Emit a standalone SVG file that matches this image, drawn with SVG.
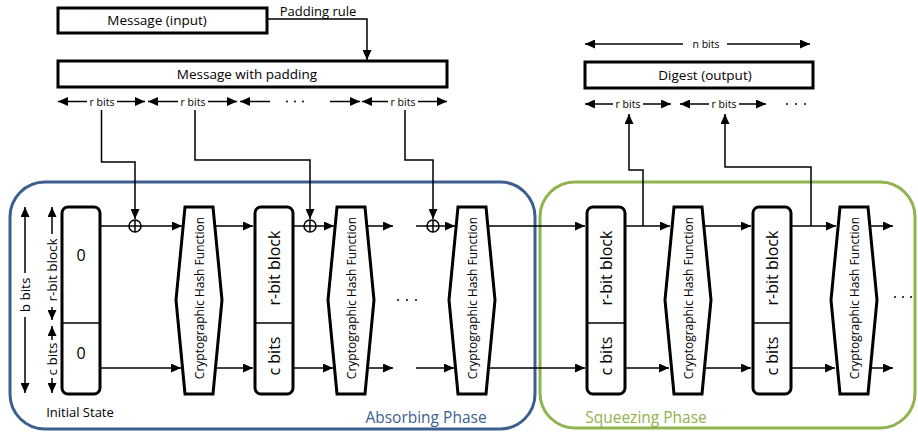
<svg xmlns="http://www.w3.org/2000/svg" width="918" height="433" viewBox="0 0 918 433">
  <defs>
    <marker id="arr" markerUnits="userSpaceOnUse" markerWidth="11" markerHeight="9" refX="10" refY="4.5" orient="auto-start-reverse">
      <path d="M0,0 L10,4.5 L0,9 Z" fill="#000"/>
    </marker>
    <style>
      text { font-family: "Open Sans", "Liberation Sans", sans-serif; fill: #000; }
      .box { fill: #fff; stroke: #000; stroke-width: 3; }
      .blk { fill: #fff; stroke: #000; stroke-width: 3; }
      .div { stroke: #000; stroke-width: 1.5; }
      .hash { fill: #fff; stroke: #000; stroke-width: 3; stroke-linejoin: miter; }
      .ln { fill: none; stroke: #000; stroke-width: 1.5; }
      .ar { fill: none; stroke: #000; stroke-width: 1.5; marker-end: url(#arr); }
      .lbl { font-size: 13.5px; text-anchor: middle; }
      .sm { font-size: 10.5px; text-anchor: middle; }
      .ht { font-size: 12px; text-anchor: middle; dominant-baseline: central; }
      .bt { font-size: 16px; text-anchor: middle; dominant-baseline: central; }
      .side { font-size: 13.5px; text-anchor: middle; dominant-baseline: central; }
      .zero { font-size: 16px; text-anchor: middle; }
      .dot { fill: #000; }
    </style>
  </defs>

  <!-- phase frames -->
  <g id="absorbing-phase">
    <rect x="10" y="182" width="525" height="247" rx="35" fill="none" stroke="#3d5f8f" stroke-width="3"/>
    <text x="426" y="423" style="font-size:15.5px; text-anchor:middle; fill:#3d5f8f">Absorbing Phase</text>
  </g>
  <g id="squeezing-phase">
    <rect x="540" y="182" width="375" height="246" rx="35" fill="none" stroke="#8fb34e" stroke-width="3"/>
    <text x="646" y="423" style="font-size:15.5px; text-anchor:middle; fill:#8fb34e">Squeezing Phase</text>
  </g>

  <!-- input message and padding -->
  <g id="message-input">
    <rect class="box" x="58" y="8" width="209" height="25"/>
    <text class="lbl" x="157" y="25">Message (input)</text>
  </g>
  <g id="message-padded">
    <rect class="box" x="58" y="61" width="389" height="26"/>
    <text class="lbl" x="247" y="79">Message with padding</text>
  </g>
  <g id="digest">
    <rect class="box" x="585" y="62" width="228" height="26"/>
    <text class="lbl" x="705" y="80">Digest (output)</text>
  </g>

  <!-- initial state -->
  <g id="initial-state">
    <rect class="blk" x="62" y="207" width="38" height="187" rx="6"/>
    <line class="div" x1="62" y1="323" x2="100" y2="323"/>
    <text class="zero" x="81" y="261">0</text>
    <text class="zero" x="81" y="359">0</text>
    <text x="80" y="417" style="font-size:13px; text-anchor:middle">Initial State</text>
  </g>

  <!-- state blocks -->
  <g id="state-2">
    <rect class="blk" x="255" y="207" width="38" height="187" rx="6"/>
    <line class="div" x1="255" y1="323" x2="293" y2="323"/>
    <text class="bt" transform="translate(274,268) rotate(-90)">r-bit block</text>
    <text class="bt" transform="translate(274,356) rotate(-90)">c bits</text>
  </g>
  <g id="state-3">
    <rect class="blk" x="587" y="207" width="38" height="187" rx="6"/>
    <line class="div" x1="587" y1="323" x2="625" y2="323"/>
    <text class="bt" transform="translate(606,268) rotate(-90)">r-bit block</text>
    <text class="bt" transform="translate(606,356) rotate(-90)">c bits</text>
  </g>
  <g id="state-4">
    <rect class="blk" x="753" y="207" width="38" height="187" rx="6"/>
    <line class="div" x1="753" y1="323" x2="791" y2="323"/>
    <text class="bt" transform="translate(772,268) rotate(-90)">r-bit block</text>
    <text class="bt" transform="translate(772,356) rotate(-90)">c bits</text>
  </g>

  <!-- permutation rounds -->
  <g id="hash-1">
    <polygon class="hash" points="185,207 213,207 222,300 213,394 185,394 176,300"/>
    <text class="ht" transform="translate(199,298) rotate(-90)">Cryptographic Hash Function</text>
  </g>
  <g id="hash-2">
    <polygon class="hash" points="337,207 365,207 374,300 365,394 337,394 328,300"/>
    <text class="ht" transform="translate(351,298) rotate(-90)">Cryptographic Hash Function</text>
  </g>
  <g id="hash-3">
    <polygon class="hash" points="458,207 486,207 495,300 486,394 458,394 449,300"/>
    <text class="ht" transform="translate(472,298) rotate(-90)">Cryptographic Hash Function</text>
  </g>
  <g id="hash-4">
    <polygon class="hash" points="674,207 702,207 711,300 702,394 674,394 665,300"/>
    <text class="ht" transform="translate(688,298) rotate(-90)">Cryptographic Hash Function</text>
  </g>
  <g id="hash-5">
    <polygon class="hash" points="840,207 868,207 877,300 868,394 840,394 831,300"/>
    <text class="ht" transform="translate(854,298) rotate(-90)">Cryptographic Hash Function</text>
  </g>

  <!-- XOR points -->
  <g id="xor-1">
    <circle class="ln" cx="135" cy="226" r="6"/>
    <path class="ln" d="M129,226 H141 M135,220 V232"/>
  </g>
  <g id="xor-2">
    <circle class="ln" cx="310" cy="226" r="6"/>
    <path class="ln" d="M304,226 H316 M310,220 V232"/>
  </g>
  <g id="xor-3">
    <circle class="ln" cx="433" cy="226" r="6"/>
    <path class="ln" d="M427,226 H439 M433,220 V232"/>
  </g>

  <!-- size annotations -->
  <g id="sizes">
    <text x="318" y="16" style="font-size:13px; text-anchor:middle">Padding rule</text>
    <!-- r bits under padded message -->
    <text class="sm" x="102" y="105.5">r bits</text>
    <text class="sm" x="193" y="105.5">r bits</text>
    <text class="sm" x="403" y="105.5">r bits</text>
    <circle class="dot" cx="287" cy="101.5" r="1"/>
    <circle class="dot" cx="295" cy="101.5" r="1"/>
    <circle class="dot" cx="303" cy="101.5" r="1"/>
    <!-- digest widths -->
    <text class="sm" x="706" y="48">n bits</text>
    <text class="sm" x="628" y="108">r bits</text>
    <text class="sm" x="724" y="108">r bits</text>
    <circle class="dot" cx="787" cy="104" r="1"/>
    <circle class="dot" cx="796" cy="104" r="1"/>
    <circle class="dot" cx="805" cy="104" r="1"/>
    <!-- state widths -->
    <text class="side" transform="translate(25,295) rotate(-90)">b bits</text>
    <text class="side" transform="translate(52,270) rotate(-90)">r-bit block</text>
    <text class="side" transform="translate(52,359) rotate(-90)">c bits</text>
    <!-- continuation dots -->
    <circle class="dot" cx="398" cy="300" r="1"/>
    <circle class="dot" cx="407" cy="300" r="1"/>
    <circle class="dot" cx="416" cy="300" r="1"/>
    <circle class="dot" cx="895" cy="297" r="1"/>
    <circle class="dot" cx="903" cy="297" r="1"/>
    <circle class="dot" cx="911" cy="297" r="1"/>
  </g>

  <g id="connectors">
    <!-- padding rule -->
    <path class="ar" d="M267,19 H367 V60"/>
    <!-- dimension arrows: padded message -->
    <path class="ar" d="M87,101.5 H58"/>
    <path class="ar" d="M117,101.5 H145"/>
    <path class="ar" d="M178,101.5 H148"/>
    <path class="ar" d="M208,101.5 H237"/>
    <path class="ar" d="M270,101.5 H240"/>
    <path class="ar" d="M330,101.5 H360"/>
    <path class="ar" d="M388,101.5 H362"/>
    <path class="ar" d="M418,101.5 H447"/>
    <!-- dimension arrows: digest -->
    <path class="ar" d="M683,44 H585"/>
    <path class="ar" d="M727,44 H810"/>
    <path class="ar" d="M613,104 H585"/>
    <path class="ar" d="M643,104 H671"/>
    <path class="ar" d="M709,104 H680"/>
    <path class="ar" d="M739,104 H766"/>
    <!-- dimension arrows: state -->
    <path class="ar" d="M25,273 V207"/>
    <path class="ar" d="M25,317 V393"/>
    <path class="ar" d="M52,234 V207"/>
    <path class="ar" d="M52,307 V320"/>
    <path class="ar" d="M52,340 V326"/>
    <path class="ar" d="M52,378 V393"/>
    <!-- message blocks into XOR -->
    <path class="ar" d="M101.5,110 V162 H135 V219"/>
    <path class="ar" d="M195,110 V160 H310 V219"/>
    <path class="ar" d="M405,110 V160 H433 V219"/>
    <!-- squeezed outputs -->
    <path class="ar" d="M643,226 V170 H629 V114"/>
    <path class="ar" d="M811,226 V167 H725 V114"/>
    <!-- r-part (upper row) -->
    <path class="ln" d="M100,226 H129"/>
    <path class="ar" d="M141,226 H182"/>
    <path class="ar" d="M216,226 H253"/>
    <path class="ln" d="M293,226 H304"/>
    <path class="ar" d="M316,226 H334"/>
    <path class="ar" d="M368,226 H393"/>
    <path class="ln" d="M416,226 H427"/>
    <path class="ar" d="M439,226 H455"/>
    <path class="ar" d="M489,226 H585"/>
    <path class="ar" d="M625,226 H670"/>
    <path class="ar" d="M705,226 H751"/>
    <path class="ar" d="M791,226 H836"/>
    <path class="ar" d="M871,226 H893"/>
    <!-- c-part (lower row) -->
    <path class="ar" d="M100,368 H181"/>
    <path class="ar" d="M216,368 H253"/>
    <path class="ar" d="M293,368 H333"/>
    <path class="ar" d="M368,368 H393"/>
    <path class="ar" d="M416,368 H454"/>
    <path class="ar" d="M489,368 H585"/>
    <path class="ar" d="M625,368 H669"/>
    <path class="ar" d="M705,368 H751"/>
    <path class="ar" d="M791,368 H835"/>
    <path class="ar" d="M871,368 H893"/>
  </g>
</svg>
